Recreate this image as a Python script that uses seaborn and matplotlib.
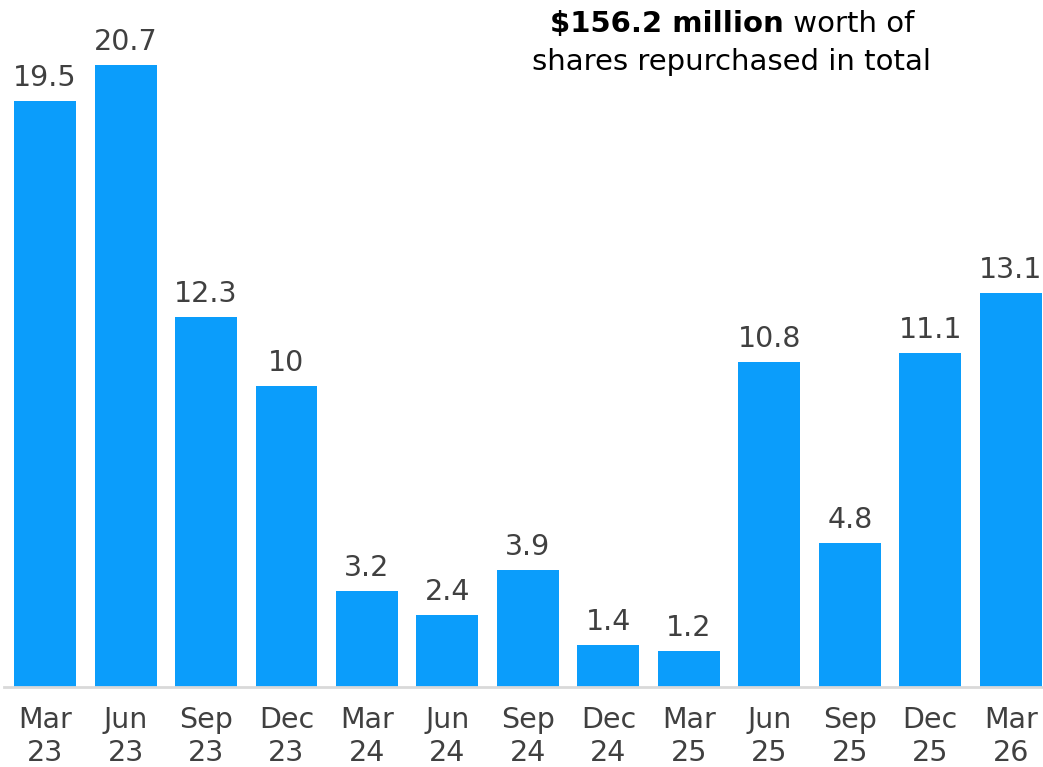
import pandas as pd
import seaborn as sns
import matplotlib.pyplot as plt

quarters = ['Mar\n23', 'Jun\n23', 'Sep\n23', 'Dec\n23', 'Mar\n24', 'Jun\n24', 'Sep\n24',
            'Dec\n24', 'Mar\n25', 'Jun\n25', 'Sep\n25', 'Dec\n25', 'Mar\n26']
buyback = [19.5, 20.7, 12.3, 10, 3.2, 2.4, 3.9, 1.4, 1.2, 10.8, 4.8, 11.1, 13.1]
value_labels = ['19.5', '20.7', '12.3', '10', '3.2', '2.4', '3.9', '1.4', '1.2', '10.8', '4.8', '11.1', '13.1']

df = pd.DataFrame({'quarter': quarters, 'buyback': buyback})

sns.set_style('white')
plt.rcParams['font.family'] = ['DejaVu Sans']
fs = 20.5

fig = plt.figure(figsize=(10.43, 7.67), dpi=100)
ax = fig.add_axes([4 / 1043, 80 / 767, 1039 / 1043, 687 / 767])

sns.barplot(data=df, x='quarter', y='buyback', color='#0B9DFB', saturation=1,
            width=0.77, linewidth=0, ax=ax)

for i, (v, lab) in enumerate(zip(buyback, value_labels)):
    ax.annotate(lab, (i, v), xytext=(0, 10.8), textcoords='offset points',
                ha='center', va='baseline', fontsize=fs, color='#404040')

ax.set_xlim(-0.51, 12.4)
ax.set_ylim(0, 22.86)
ax.set_xlabel('')
ax.set_ylabel('')
ax.set_yticks([])
ax.tick_params(axis='x', length=0, pad=14, labelsize=fs, labelcolor='#404040')
for lbl in ax.get_xticklabels():
    lbl.set_linespacing(1.2)
for s in ['top', 'right', 'left']:
    ax.spines[s].set_visible(False)
ax.spines['bottom'].set_color('#d9d9d9')
ax.spines['bottom'].set_linewidth(2)

# total note: bold part + regular part on line 1, centered around x=732
t1 = fig.text(0.0, 0.0, '$156.2 million', fontsize=fs + 0.5, fontweight='bold', color='black')
t2 = fig.text(0.0, 0.0, ' worth of', fontsize=fs + 0.5, color='black')
fig.canvas.draw()
renderer = fig.canvas.get_renderer()
bold_w = t1.get_window_extent(renderer).width
reg_w = t2.get_window_extent(renderer).width
x0 = 732 - (bold_w + reg_w) / 2
t1.set_position((x0 / 1043, 1 - 32 / 767))
t2.set_position(((x0 + bold_w) / 1043, 1 - 32 / 767))
fig.text(731 / 1043, 1 - 70 / 767, 'shares repurchased in total', fontsize=fs + 0.5,
         ha='center', color='black')

fig.savefig('out.png', dpi=100)
